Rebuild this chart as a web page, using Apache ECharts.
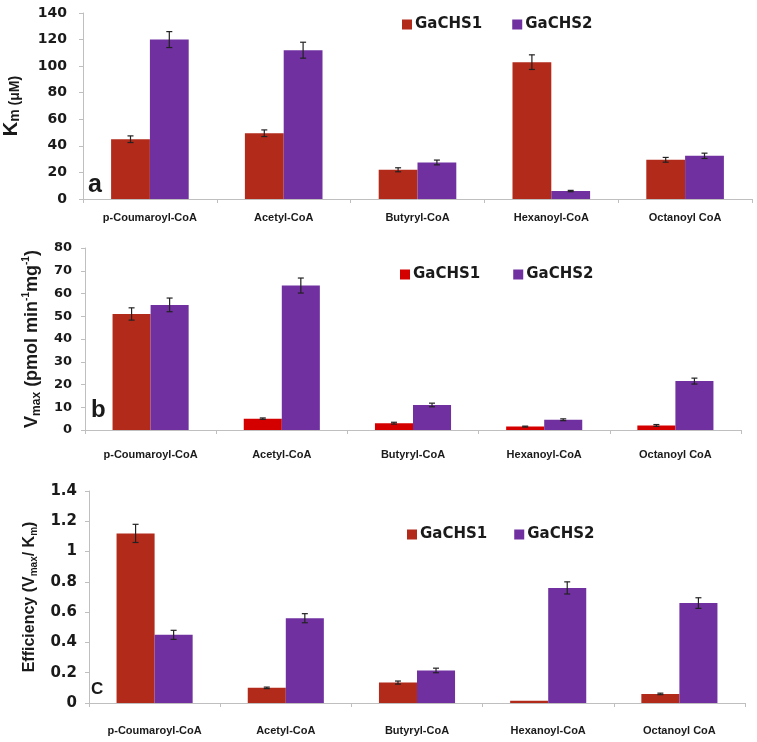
<!DOCTYPE html>
<html><head><meta charset="utf-8">
<script src="https://cdn.jsdelivr.net/npm/echarts@6/dist/echarts.min.js"></script>
<style>html,body{margin:0;padding:0;background:#fff}#c{width:757px;height:742px}</style>
</head><body><div id="c"></div>
<script>
const categories = ['p-Coumaroyl-CoA', 'Acetyl-CoA', 'Butyryl-CoA', 'Hexanoyl-CoA', 'Octanoyl CoA'];
const seriesNames = ['GaCHS1', 'GaCHS2'];
// Panel a: Km (uM)
const kmCHS1 = [45, 49.5, 22, 103, 29.5];
const kmCHS2 = [120, 112, 27.5, 6, 32.5];
const kmErr1 = [2.5, 2.5, 1.5, 5.5, 1.8];
const kmErr2 = [6, 6, 1.8, 0.5, 2];
// Panel b: Vmax
const vmaxCHS1 = [51, 5, 3, 1.5, 2];
const vmaxCHS2 = [55, 63.5, 11, 4.5, 21.5];
const vmaxErr1 = [2.7, 0.3, 0.4, 0.2, 0.4];
const vmaxErr2 = [3, 3.3, 0.8, 0.4, 1.3];
// Panel c: Efficiency
const effCHS1 = [1.12, 0.1, 0.135, 0.015, 0.06];
const effCHS2 = [0.45, 0.56, 0.215, 0.76, 0.66];
const effErr1 = [0.06, 0.005, 0.01, 0, 0.005];
const effErr2 = [0.03, 0.03, 0.015, 0.04, 0.035];
// axis scales
const kmAxis = {min: 0, max: 140, interval: 20};
const vmaxAxis = {min: 0, max: 80, interval: 10};
const effAxis = {min: 0, max: 1.4, interval: 0.2};

const RED = '#B22A1A', PURPLE = '#7030A0', BRIGHT = '#D40000';
const AXC = '#BFBFBF', TXT = '#1a1a1a';
const FONT = '"Liberation Sans", Arial, sans-serif';
const TICKFONT = '"DejaVu Sans", sans-serif';

const grids = [
  {left: 83, right: 5, top: 13, height: 186, outerBoundsMode: 'none', containLabel: false},
  {left: 85, right: 16, top: 248, height: 182, outerBoundsMode: 'none', containLabel: false},
  {left: 89, right: 12, top: 491, height: 212, outerBoundsMode: 'none', containLabel: false}
];

function xAx(i, margin) {
  return {
    type: 'category', gridIndex: i, data: categories,
    axisLine: {lineStyle: {color: AXC, width: 1}},
    axisTick: {show: true, length: 4, lineStyle: {color: AXC}},
    axisLabel: {color: TXT, fontFamily: FONT, fontWeight: 'bold', fontSize: 11, margin: margin}
  };
}
function yAx(i, sc, name, gap, rich, labelMargin, labelSize) {
  return {
    type: 'value', gridIndex: i, min: sc.min, max: sc.max, interval: sc.interval,
    name: name, nameLocation: 'middle', nameRotate: 90, nameGap: gap,
    nameTextStyle: {rich: rich},
    axisLine: {show: true, lineStyle: {color: AXC, width: 1}},
    axisTick: {show: true, length: 4, lineStyle: {color: AXC}},
    splitLine: {show: false},
    axisLabel: {color: TXT, fontFamily: TICKFONT, fontWeight: 'bold', fontSize: labelSize, margin: labelMargin}
  };
}
function bar(name, i, vals, color, itemColors) {
  return {
    type: 'bar', name: name, xAxisIndex: i, yAxisIndex: i,
    barGap: '0%', barCategoryGap: '42%',
    itemStyle: {color: color},
    data: vals.map((v, k) => itemColors && itemColors[k] ? {value: v, itemStyle: {color: itemColors[k]}} : v),
    z: 2
  };
}
function errSeries(i, vals, errs, sign) {
  return {
    type: 'custom', xAxisIndex: i, yAxisIndex: i, z: 5, silent: true,
    data: vals.map((v, k) => [k, v, errs[k]]),
    renderItem: function (params, api) {
      const x = api.value(0), y = api.value(1), e = api.value(2);
      if (!e) return null;
      const band = api.size([1, 0])[0];
      const off = sign * band * 0.145;
      const hi = api.coord([x, y + e]);
      const lo = api.coord([x, y - e]);
      const cx = hi[0] + off, cap = 3;
      const st = {stroke: '#222', lineWidth: 1.2};
      return {type: 'group', children: [
        {type: 'line', shape: {x1: cx, y1: hi[1], x2: cx, y2: lo[1]}, style: st},
        {type: 'line', shape: {x1: cx - cap, y1: hi[1], x2: cx + cap, y2: hi[1]}, style: st},
        {type: 'line', shape: {x1: cx - cap, y1: lo[1], x2: cx + cap, y2: lo[1]}, style: st}
      ]};
    }
  };
}
function legend(left, top, gap, c1) {
  return {
    data: [{name: seriesNames[0], itemStyle: {color: c1}}, {name: seriesNames[1], itemStyle: {color: PURPLE}}],
    left: left, top: top, itemGap: gap, itemWidth: 10, itemHeight: 10, icon: 'rect',
    textStyle: {fontFamily: TICKFONT, fontWeight: 'bold', fontSize: 15, color: TXT, padding: [0, 0, 0, -2]},
    selectedMode: false
  };
}
const B = {fontFamily: FONT, fontWeight: 'bold', color: TXT};
const richA = {
  k: Object.assign({fontSize: 20, lineHeight: 22}, B),
  s: Object.assign({fontSize: 14, lineHeight: 14, verticalAlign: 'bottom'}, B),
  u: Object.assign({fontSize: 14, lineHeight: 18, verticalAlign: 'bottom'}, B)
};
const richB = {
  n: Object.assign({fontSize: 18, lineHeight: 22}, B),
  s: Object.assign({fontSize: 12, lineHeight: 14, verticalAlign: 'bottom'}, B),
  p: Object.assign({fontSize: 10, lineHeight: 20, verticalAlign: 'top'}, B)
};
const richC = {
  n: Object.assign({fontSize: 16, lineHeight: 20}, B),
  s: Object.assign({fontSize: 10, lineHeight: 12, verticalAlign: 'bottom'}, B)
};

const option = {
  backgroundColor: '#fff',
  animation: false,
  grid: grids,
  legend: [legend(397, 12, 30, RED), legend(395, 262, 33, BRIGHT), legend(402, 522, 27, RED)],
  xAxis: [xAx(0, 13), xAx(1, 19), xAx(2, 22)],
  yAxis: [
    yAx(0, kmAxis, '{k|K}{s|m}{u| (μM)}', 61, richA, 16, 14),
    yAx(1, vmaxAxis, '{n|V}{s|max}{n| (pmol min}{p|-1}{n|mg}{p|-1}{n|)}', 40, richB, 13, 13),
    yAx(2, effAxis, '{n|Efficiency (V}{s|max}{n|/ K}{s|m}{n|)}', 49, richC, 12, 15)
  ],
  series: [
    bar(seriesNames[0], 0, kmCHS1, RED),
    bar(seriesNames[1], 0, kmCHS2, PURPLE),
    bar(seriesNames[0], 1, vmaxCHS1, BRIGHT, [RED]),
    bar(seriesNames[1], 1, vmaxCHS2, PURPLE),
    bar(seriesNames[0], 2, effCHS1, RED),
    bar(seriesNames[1], 2, effCHS2, PURPLE),
    errSeries(0, kmCHS1, kmErr1, -1), errSeries(0, kmCHS2, kmErr2, 1),
    errSeries(1, vmaxCHS1, vmaxErr1, -1), errSeries(1, vmaxCHS2, vmaxErr2, 1),
    errSeries(2, effCHS1, effErr1, -1), errSeries(2, effCHS2, effErr2, 1)
  ],
  graphic: [
    {type: 'text', left: 88, top: 173, style: {text: 'a', font: 'bold 25px "Liberation Sans", Arial', fill: TXT}},
    {type: 'text', left: 91, top: 398, style: {text: 'b', font: 'bold 24px "Liberation Sans", Arial', fill: TXT}},
    {type: 'text', left: 91, top: 681, style: {text: 'C', font: 'bold 17px "Liberation Sans", Arial', fill: TXT}}
  ]
};
const chart = echarts.init(document.getElementById('c'), null, {renderer: 'canvas'});
chart.setOption(option);
</script></body></html>
